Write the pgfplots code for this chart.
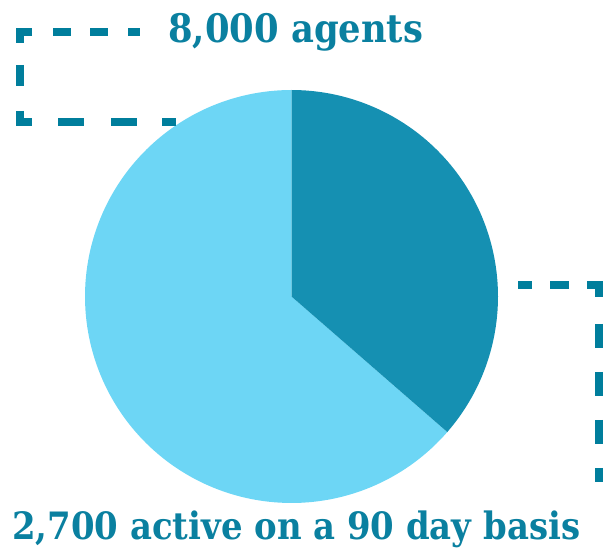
\documentclass[border=0pt]{standalone}
\usepackage{fontspec}
\setmainfont{DejaVu Serif Condensed}
\usepackage{pgfplots}
\pgfplotsset{compat=1.18}
\definecolor{darkslice}{RGB}{21,144,178}
\definecolor{lightslice}{RGB}{109,214,245}
\definecolor{txtcol}{RGB}{10,128,160}
\definecolor{dashcol}{RGB}{0,126,156}
\begin{document}
\begin{tikzpicture}
\begin{axis}[
  width=609bp, height=550bp, scale only axis,
  xmin=0, xmax=609, ymin=0, ymax=550, y dir=reverse,
  axis lines=none, clip=false,
  every axis plot/.append style={line cap=butt, line join=miter},
]
\path (rel axis cs:0,0) rectangle (rel axis cs:1,1);
% pie values (percent of the whole circle)
\pgfmathsetmacro{\active}{36.4}
\pgfmathsetmacro{\angA}{3.6*\active}
\addplot[fill=lightslice, draw=none, domain=\angA:360, samples=150]
  ({291.5+206.5*sin(x)},{296.5-206.5*cos(x)}) -- (axis cs:291.5,296.5) -- cycle;
\addplot[fill=darkslice, draw=none, domain=0:\angA, samples=100]
  ({291.5+206.5*sin(x)},{296.5-206.5*cos(x)}) -- (axis cs:291.5,296.5) -- cycle;
% dashed leader lines
\pgfplotsset{ld/.style={dashcol, line width=8bp, no marks}}
\addplot[ld] coordinates {(32,32) (19.5,32) (19.5,43)};
\addplot[ld] coordinates {(53,32) (71,32)};
\addplot[ld] coordinates {(90,32) (108,32)};
\addplot[ld] coordinates {(128,32) (140,32)};
\addplot[ld] coordinates {(19.5,65) (19.5,86)};
\addplot[ld] coordinates {(19.5,111) (19.5,122.5) (32,122.5)};
\addplot[ld] coordinates {(58,122.5) (84,122.5)};
\addplot[ld] coordinates {(111,122.5) (137,122.5)};
\addplot[ld] coordinates {(162,122.5) (176,122.5)};
\addplot[ld] coordinates {(518,285.5) (532,285.5)};
\addplot[ld] coordinates {(550,285.5) (569,285.5)};
\addplot[ld] coordinates {(587,285.5) (599,285.5) (599,297)};
\addplot[ld] coordinates {(599,324) (599,348)};
\addplot[ld] coordinates {(599,372) (599,396)};
\addplot[ld] coordinates {(599,420) (599,444)};
\addplot[ld] coordinates {(599,468) (599,482)};
\node[anchor=base west, inner sep=0pt, text=txtcol] at (axis cs:168,43)
  {\resizebox{255bp}{!}{\bfseries 8,000 agents}};
\node[anchor=base west, inner sep=0pt, text=txtcol] at (axis cs:12,540)
  {\resizebox{568bp}{!}{\bfseries 2,700 active on a 90 day basis}};
\end{axis}
\end{tikzpicture}
\end{document}
